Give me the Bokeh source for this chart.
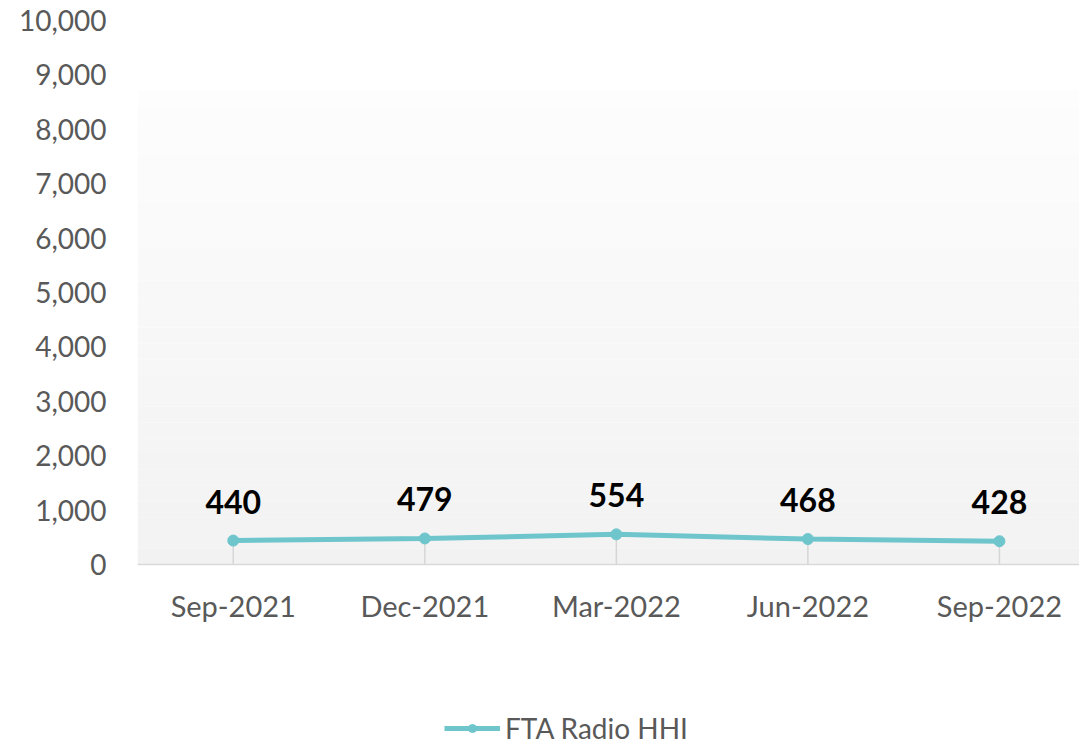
from bokeh.plotting import figure
from bokeh.models import Range1d, FixedTicker, BoxAnnotation, Legend, LegendItem, NumeralTickFormatter, ColumnDataSource, Span
from bokeh.core.properties import value
from bokeh.embed import file_html
from bokeh.resources import INLINE

categories = ["Sep-2021", "Dec-2021", "Mar-2022", "Jun-2022", "Sep-2022"]
hhi = [440, 479, 554, 468, 428]
y_ticks = [0, 1000, 2000, 3000, 4000, 5000, 6000, 7000, 8000, 9000, 10000]
series_name = "FTA Radio HHI"

FONT = "Lato"
TEAL = "#6EC6CC"
GREY_TXT = "#595959"

xs = list(range(len(categories)))
src = ColumnDataSource(dict(x=xs, y=hhi, zero=[0] * len(hhi), lbl=[str(v) for v in hhi], cat=categories))

# frame runs to the bottom of the canvas; value 0 sits 181 px above it
p = figure(width=1079, height=745, output_backend="svg", toolbar_location=None,
           x_range=Range1d(-0.5, 4.418), y_range=Range1d(-3327, 10000),
           min_border_left=137, min_border_right=0, min_border_top=20, min_border_bottom=0)
p.outline_line_color = None
p.background_fill_color = "white"
p.border_fill_color = "white"
p.xgrid.visible = False
p.ygrid.visible = False
p.xaxis.visible = False

# gradient-like plot area background
bg_top = 8700
n_bands = 30
for i in range(n_bands):
    b = bg_top * i / n_bands
    t = bg_top * (i + 1) / n_bands
    g = int(round(242 + (253 - 242) * (i + 0.5) / n_bands))
    p.add_layout(BoxAnnotation(bottom=b, top=t, fill_color=f"#{g:02x}{g:02x}{g:02x}",
                               fill_alpha=1.0, line_color=None, level="underlay"))

# category axis baseline
p.add_layout(Span(location=0, dimension="width", line_color="#d9d9d9", line_width=1.5))

# drop lines
p.segment(x0="x", y0="zero", x1="x", y1="y", source=src, line_color="#d6d6d6", line_width=1.5)

ln = p.line("x", "y", source=src, line_color=TEAL, line_width=5)
sc = p.scatter("x", "y", source=src, size=11, fill_color=TEAL, line_color=TEAL)

# data labels
p.text("x", "y", text="lbl", source=src, y_offset=-39, text_align="center", text_baseline="middle",
       text_font=value(FONT), text_font_style="bold", text_font_size="32px", text_color="black")

# category labels
p.text("x", "zero", text="cat", source=src, y_offset=41, text_align="center", text_baseline="middle",
       text_font=value(FONT), text_font_size="29px", text_color=GREY_TXT)

# y axis
p.yaxis.ticker = FixedTicker(ticks=y_ticks)
p.yaxis.formatter = NumeralTickFormatter(format="0,0")
p.yaxis.axis_line_color = None
p.yaxis.major_tick_line_color = None
p.yaxis.minor_tick_line_color = None
p.yaxis.major_label_text_font = FONT
p.yaxis.major_label_text_font_size = "28px"
p.yaxis.major_label_text_color = GREY_TXT
p.yaxis.major_label_standoff = 25

legend = Legend(items=[LegendItem(label=series_name, renderers=[ln, sc])],
                location=(307, 0), orientation="horizontal",
                label_text_font=FONT, label_text_font_size="28px", label_text_color=GREY_TXT,
                glyph_width=56, glyph_height=20, label_height=20, label_standoff=5,
                padding=0, margin=0, spacing=0,
                background_fill_alpha=0, border_line_color=None)
p.add_layout(legend, "center")

open("out.html", "w").write(file_html(p, INLINE))
